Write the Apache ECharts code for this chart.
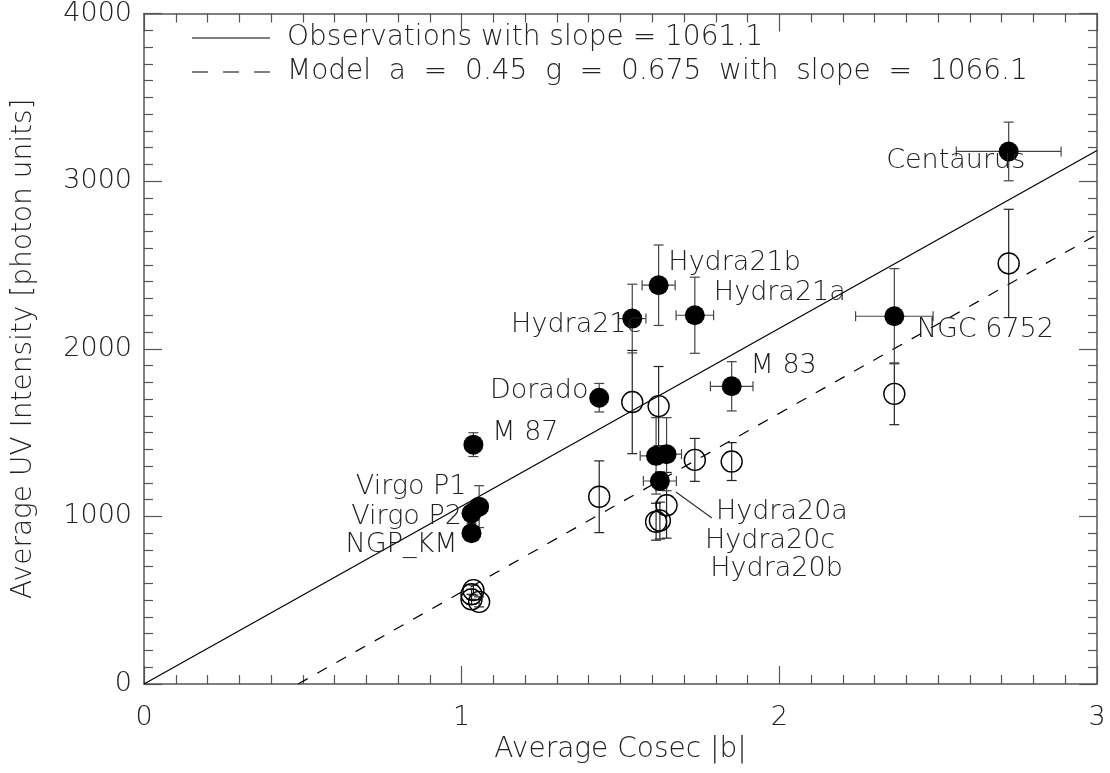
<!DOCTYPE html>
<html>
<head>
<meta charset="utf-8">
<script src="https://cdn.jsdelivr.net/npm/echarts@6/dist/echarts.min.js"></script>
<style>
  html, body { margin: 0; padding: 0; background: #fff; }
  #main { width: 1110px; height: 773px; }
</style>
</head>
<body>
<div id="main"></div>
<script>
// fields, in the order used by every array below
var names = ['Centaurus', 'NGC 6752', 'Hydra21b', 'Hydra21c', 'Hydra21a', 'M 83', 'Dorado',
             'M 87', 'Virgo P1', 'Virgo P2', 'NGP_KM', 'Hydra20a', 'Hydra20c', 'Hydra20b'];
var cosec    = [2.722, 2.362, 1.620, 1.537, 1.734, 1.850, 1.433, 1.037, 1.055, 1.031, 1.031, 1.624, 1.612, 1.645];
var cosecErr = [0.165, 0.122, 0.052, 0.043, 0.059, 0.067, 0.012, 0, 0, 0, 0, 0.052, 0.050, 0.047];
var noErr    = [0, 0, 0, 0, 0, 0, 0, 0, 0, 0, 0, 0, 0, 0];

// observed intensity (filled) and model (open)
var obsUV    = [3177, 2194, 2379, 2180, 2200, 1776, 1708, 1428, 1058, 1018, 900, 1211, 1361, 1371];
var obsErr   = [175, 284, 240, 205, 227, 147, 85, 71, 125, 60, 40, 55, 228, 218];
var modelUV  = [2509, 1731, 1658, 1682, 1337, 1327, 1117, 560, 490, 535, 505, 975, 968, 1066];
var modelErr = [323, 184, 236, 308, 128, 113, 214, 30, 30, 30, 30, 110, 110, 196];

// fitted lines
var obsLine   = [[0, 0], [3, 3183]];
var modelLine = [[0.485, 0], [3, 2681]];

var xTicks = [0, 1, 2, 3];
var yTicks = [0, 1000, 2000, 3000, 4000];
var legendText = ['Observations with slope = 1061.1',
                  'Model  a  =  0.45  g  =  0.675  with  slope  =  1066.1'];

// label placement (pixel offsets from each point)
var labelOffset = {
  'Centaurus': [-53, 10], 'NGC 6752': [91, 14], 'Hydra21b': [76, -22], 'Hydra21c': [-56, 6],
  'Hydra21a': [85, -22], 'M 83': [52, -20], 'Dorado': [-60, -7], 'M 87': [52, -12],
  'Virgo P1': [-68, -20], 'Virgo P2': [-65, 4], 'NGP_KM': [-70, 12],
  'Hydra20a': [122, 31], 'Hydra20c': [114, 85], 'Hydra20b': [110, 115]
};

var FONT = 'DejaVu Sans';
var FW = 200;
var TXT = '#222';

function errBars(ys, xErr, yErr, color) {
  return {
    type: 'custom',
    z: 2,
    silent: true,
    data: cosec.map(function (x, i) { return [x, ys[i], xErr[i], yErr[i]]; }),
    renderItem: function (params, api) {
      var x = api.value(0), y = api.value(1), dx = api.value(2), dy = api.value(3);
      var style = { stroke: color, lineWidth: 1.2 };
      var kids = [];
      var cap = 5;
      if (dy > 0) {
        var t = api.coord([x, y + dy]), b = api.coord([x, y - dy]);
        kids.push({ type: 'line', shape: { x1: t[0], y1: t[1], x2: b[0], y2: b[1] }, style: style });
        kids.push({ type: 'line', shape: { x1: t[0] - cap, y1: t[1], x2: t[0] + cap, y2: t[1] }, style: style });
        kids.push({ type: 'line', shape: { x1: b[0] - cap, y1: b[1], x2: b[0] + cap, y2: b[1] }, style: style });
      }
      if (dx > 0) {
        var l = api.coord([x - dx, y]), r = api.coord([x + dx, y]);
        kids.push({ type: 'line', shape: { x1: l[0], y1: l[1], x2: r[0], y2: r[1] }, style: style });
        kids.push({ type: 'line', shape: { x1: l[0], y1: l[1] - cap, x2: l[0], y2: l[1] + cap }, style: style });
        kids.push({ type: 'line', shape: { x1: r[0], y1: r[1] - cap, x2: r[0], y2: r[1] + cap }, style: style });
      }
      return { type: 'group', children: kids };
    }
  };
}

function axisCommon(showLabels) {
  return {
    axisLine: { show: true, onZero: false, lineStyle: { color: '#555', width: 1.5 } },
    axisTick: { show: true, inside: true, length: 18, lineStyle: { color: '#555', width: 1.2 } },
    minorTick: { show: true, splitNumber: 10, length: 9, lineStyle: { color: '#555', width: 1.2 } },
    splitLine: { show: false },
    axisLabel: { show: showLabels, color: TXT, fontFamily: FONT, fontWeight: FW, fontSize: 27 }
  };
}

var chart = echarts.init(document.getElementById('main'));

var xBottom = Object.assign(axisCommon(true), {
  type: 'value', position: 'bottom', min: 0, max: 3, interval: 1,
  name: 'Average Cosec |b|', nameLocation: 'middle', nameGap: 46,
  nameTextStyle: { color: TXT, fontFamily: FONT, fontWeight: FW, fontSize: 28 }
});
xBottom.axisLabel.margin = 20;
xBottom.axisLabel.formatter = function (v) { return xTicks.indexOf(v) >= 0 ? String(v) : ''; };

var xTop = Object.assign(axisCommon(false), { type: 'value', position: 'top', min: 0, max: 3, interval: 1 });

var yLeft = Object.assign(axisCommon(true), {
  type: 'value', position: 'left', min: 0, max: 4000, interval: 1000,
  name: 'Average UV Intensity [photon units]', nameLocation: 'middle', nameGap: 106,
  nameTextStyle: { color: TXT, fontFamily: FONT, fontWeight: FW, fontSize: 28 }
});
yLeft.axisLabel.margin = 12;
yLeft.axisLabel.formatter = function (v) { return yTicks.indexOf(v) >= 0 ? String(v) : ''; };

var yRight = Object.assign(axisCommon(false), { type: 'value', position: 'right', min: 0, max: 4000, interval: 1000 });

var filledData = cosec.map(function (x, i) {
  return {
    value: [x, obsUV[i]],
    name: names[i],
    label: {
      show: true, position: 'inside', formatter: names[i],
      offset: labelOffset[names[i]], color: TXT, fontFamily: FONT, fontWeight: FW, fontSize: 27
    }
  };
});

chart.setOption({
  animation: false,
  backgroundColor: '#fff',
  grid: { left: 144, right: 13, top: 7, bottom: 89 },
  xAxis: [xBottom, xTop],
  yAxis: [yLeft, yRight],
  series: [
    {
      type: 'line', data: obsLine, symbol: 'none',
      lineStyle: { color: '#000', width: 1.2 }, z: 1
    },
    {
      type: 'line', data: modelLine, symbol: 'none',
      lineStyle: { color: '#000', width: 1.2, type: [11, 11] }, z: 1
    },
    errBars(modelUV, noErr, modelErr, '#222'),
    errBars(obsUV, cosecErr, obsErr, '#444'),
    {
      type: 'scatter', symbol: 'circle', symbolSize: 21, z: 3,
      itemStyle: { color: 'rgba(0,0,0,0)', borderColor: '#000', borderWidth: 1.4, opacity: 1 },
      data: cosec.map(function (x, i) { return [x, modelUV[i]]; })
    },
    {
      type: 'scatter', symbol: 'circle', symbolSize: 20, z: 4,
      itemStyle: { color: '#000', opacity: 1 },
      data: filledData
    }
  ]
});

// legend drawn by hand so the line samples look like the plot's
var ih = names.indexOf('Hydra20a');
var p = chart.convertToPixel({ xAxisIndex: 0, yAxisIndex: 0 }, [cosec[ih], obsUV[ih]]);
var legendStyle = { fill: TXT, font: FW + ' 28px "' + FONT + '"', textVerticalAlign: 'middle' };
chart.setOption({
  graphic: [
    { type: 'line', silent: true, shape: { x1: 192, y1: 38, x2: 270, y2: 38 },
      style: { stroke: '#000', lineWidth: 1.2 } },
    { type: 'line', silent: true, shape: { x1: 192, y1: 72, x2: 270, y2: 72 },
      style: { stroke: '#000', lineWidth: 1.2, lineDash: [16, 15] } },
    { type: 'text', silent: true, x: 287, y: 38,
      style: Object.assign({ text: legendText[0] }, legendStyle) },
    { type: 'text', silent: true, x: 287, y: 72,
      style: Object.assign({ text: legendText[1] }, legendStyle) },
    { type: 'line', silent: true, z: 5,
      shape: { x1: p[0] + 16, y1: p[1] + 11, x2: p[0] + 52, y2: p[1] + 37 },
      style: { stroke: '#333', lineWidth: 1.2 } }
  ]
});
</script>
</body>
</html>
